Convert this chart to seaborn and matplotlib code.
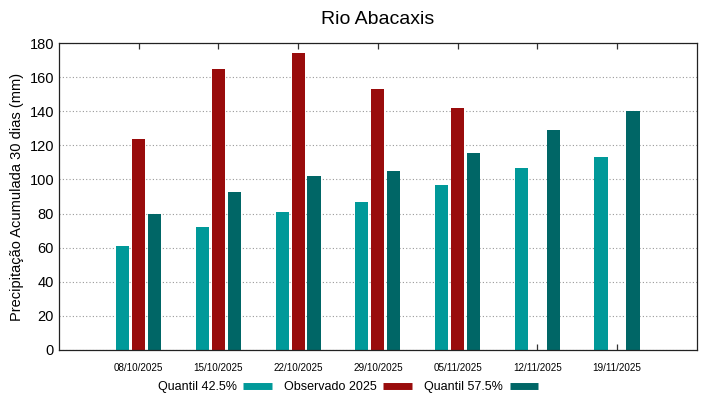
import matplotlib
matplotlib.use('Agg')
import matplotlib.pyplot as plt
import numpy as np
import pandas as pd
import seaborn as sns

# Chart data
dates = ['08/10/2025', '15/10/2025', '22/10/2025', '29/10/2025',
         '05/11/2025', '12/11/2025', '19/11/2025']
quantil_425 = [61, 72, 81, 87, 97, 107, 113]
observado_2025 = [124, 165, 174, 153, 142, np.nan, np.nan]
quantil_575 = [80, 92.5, 102, 105, 115.5, 129, 140]

series_names = ['Quantil 42.5%', 'Observado 2025', 'Quantil 57.5%']
colors = ['#009999', '#990c0c', '#006666']

df = pd.DataFrame({
    'data': dates * 3,
    'valor': quantil_425 + observado_2025 + quantil_575,
    'serie': np.repeat(series_names, len(dates)),
})

sns.set_style('white')
plt.rcParams['font.family'] = ['Liberation Sans', 'DejaVu Sans']
plt.rcParams['text.color'] = 'black'

fig = plt.figure(figsize=(7.19, 3.99), dpi=100)
ax = fig.add_axes([0.082, 0.123, 0.887, 0.769])

sns.barplot(data=df, x='data', y='valor', hue='serie', hue_order=series_names,
            palette=colors, width=0.6, dodge=True, ax=ax, legend=False,
            edgecolor='none', saturation=1)

# narrow the bars a little, keep their centres
for p in ax.patches:
    c = p.get_x() + p.get_width() / 2
    p.set_width(0.165)
    p.set_x(c - 0.165 / 2)

ax.set_xlim(-1, len(dates))
ax.set_ylim(0, 180)
ax.set_yticks(range(0, 181, 20))
ax.yaxis.grid(True, linestyle=(0, (1, 2)), color='#999999', linewidth=0.8)
ax.set_axisbelow(True)
ax.set_xlabel('')
ax.set_ylabel('Precipitação Acumulada 30 dias (mm)', fontsize=10.5, color='black')
ax.tick_params(axis='y', labelsize=10.5, labelcolor='black', direction='in',
               length=0, left=True)
ax.tick_params(axis='x', labelsize=7.1, labelcolor='black', direction='in',
               length=4, width=0.9, color='#333333', bottom=True, top=True, pad=9.5)
for s in ax.spines.values():
    s.set_color('#222222')
    s.set_linewidth(0.9)

ax.set_title('Rio Abacaxis', fontsize=14, pad=14, color='black')

handles = [plt.Line2D([0], [0], color=c, linewidth=5, solid_capstyle='butt') for c in colors]
fig.legend(handles, series_names, loc='center', bbox_to_anchor=(0.484, 0.029),
           ncol=3, frameon=False, markerfirst=False,
           prop={'size': 9},
           handlelength=2.3, columnspacing=1.0, handletextpad=0.5)

fig.savefig('out.png', dpi=100)
